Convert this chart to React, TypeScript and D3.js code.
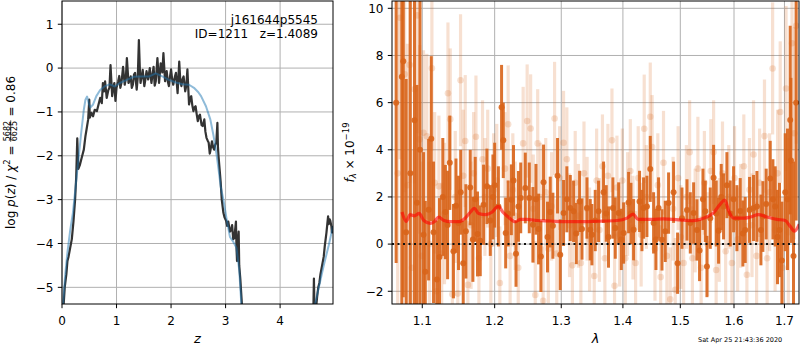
import { useEffect, useRef } from 'react';
import * as d3 from 'd3';

const W = 800;
const H = 350;

// ---- left panel: redshift PDF
const zTicks = [0, 1, 2, 3, 4];
const logpTicks = [-5, -4, -3, -2, -1, 0, 1];

const pzNoisy: [number, number][] = [
  [0.02, -5.6], [0.05, -5.0], [0.08, -4.7], [0.10, -4.4], [0.12, -4.3], [0.15, -4.1], [0.18, -3.9],
  [0.21, -3.5], [0.24, -3.0], [0.26, -2.5], [0.28, -1.6], [0.30, -2.3], [0.33, -2.2], [0.36, -2.05],
  [0.40, -1.86], [0.43, -1.55], [0.45, -1.4], [0.48, -1.17], [0.50, -0.72], [0.51, -1.13], [0.54, -1.02],
  [0.57, -1.1], [0.60, -0.95], [0.64, -0.98], [0.67, -0.83], [0.70, -0.68], [0.73, -0.8], [0.75, -0.34],
  [0.77, -0.53], [0.79, -0.3], [0.82, -0.68], [0.85, -0.5], [0.87, -0.45], [0.89, 0.07], [0.92, -0.64],
  [0.94, -0.45], [0.96, -0.34], [0.98, -0.75], [1.00, -0.45], [1.03, -0.3], [1.05, -0.18], [1.07, -0.45],
  [1.09, -0.34], [1.12, 0.03], [1.15, -0.38], [1.17, -0.25], [1.19, 0.23], [1.22, -0.34], [1.24, -0.28],
  [1.26, -0.19], [1.28, -0.45], [1.30, -0.38], [1.32, -0.15], [1.34, -0.11], [1.37, -0.49], [1.39, -0.2],
  [1.41, 0.64], [1.43, -0.1], [1.44, -0.34], [1.46, -0.2], [1.48, -0.04], [1.51, -0.41], [1.53, -0.25],
  [1.55, -0.07], [1.58, -0.26], [1.61, 0.0], [1.64, -0.34], [1.66, -0.15], [1.68, 0.03], [1.70, -0.4],
  [1.72, -0.3], [1.75, 0.23], [1.78, -0.34], [1.81, 0.11], [1.84, -0.1], [1.86, 0.34], [1.89, -0.3],
  [1.92, -0.07], [1.94, -0.3], [1.96, -0.41], [1.98, -0.2], [2.00, -0.03], [2.02, -0.25], [2.04, -0.38],
  [2.07, -0.2], [2.09, -0.11], [2.12, -0.57], [2.15, 0.15], [2.17, -0.3], [2.19, -0.41], [2.21, -0.25],
  [2.23, -0.19], [2.26, -0.53], [2.28, -0.4], [2.30, -0.03], [2.33, -0.83], [2.35, -0.7], [2.37, -0.64],
  [2.39, -0.85], [2.41, -0.98], [2.43, -0.9], [2.45, -0.87], [2.47, -1.05], [2.49, -1.21], [2.51, -1.1],
  [2.53, -1.06], [2.56, -1.3], [2.58, -1.32], [2.61, -1.17], [2.63, -1.45], [2.65, -1.59], [2.67, -1.65],
  [2.69, -1.7], [2.71, -1.95], [2.72, -1.89], [2.75, -1.67], [2.77, -1.8], [2.79, -1.86], [2.81, -1.75],
  [2.83, -1.7], [2.85, -1.25], [2.86, -1.8], [2.87, -2.0], [2.89, -2.3], [2.91, -2.6], [2.93, -3.0],
  [2.96, -3.3], [2.98, -3.4], [3.01, -3.48], [3.03, -3.6], [3.05, -3.5], [3.08, -3.73], [3.10, -3.7],
  [3.12, -3.58], [3.14, -3.9], [3.16, -3.88], [3.19, -3.5], [3.20, -4.1], [3.21, -4.4], [3.23, -3.9],
  [3.24, -3.73], [3.25, -4.5], [3.27, -4.8], [3.28, -5.0], [3.31, -5.6], [3.35, -8], [4.58, -8],
  [4.61, -5.5], [4.62, -4.8], [4.63, -5.5], [4.65, -5.6], [4.68, -5.2], [4.70, -5.0], [4.72, -4.9],
  [4.74, -4.7], [4.77, -4.5], [4.80, -4.3], [4.82, -4.05], [4.85, -3.75], [4.87, -3.5], [4.88, -3.38],
  [4.89, -3.56], [4.91, -3.45], [4.92, -3.48], [4.94, -3.6], [4.95, -3.75], [4.97, -3.6],
];

const pzSmooth: [number, number][] = [
  [0.00, -5.7], [0.03, -5.2], [0.06, -4.7], [0.10, -4.2], [0.15, -3.7], [0.20, -3.3], [0.25, -2.7],
  [0.30, -2.1], [0.35, -1.5], [0.40, -0.95], [0.43, -0.72], [0.46, -0.65], [0.49, -0.8], [0.52, -0.9],
  [0.57, -0.83], [0.63, -0.64], [0.70, -0.5], [0.79, -0.41], [0.88, -0.37], [0.97, -0.42], [1.06, -0.34],
  [1.19, -0.27], [1.31, -0.2], [1.44, -0.19], [1.60, -0.19], [1.72, -0.12], [1.84, -0.19], [1.96, -0.27],
  [2.09, -0.33], [2.21, -0.37], [2.33, -0.38], [2.42, -0.45], [2.50, -0.55], [2.55, -0.64], [2.64, -0.87],
  [2.72, -1.17], [2.78, -1.55], [2.83, -1.93], [2.87, -2.3], [2.91, -2.7], [2.96, -3.0], [3.02, -3.45],
  [3.08, -3.85], [3.14, -3.96], [3.20, -4.1], [3.25, -4.6], [3.29, -5.4], [3.33, -6.5], [3.40, -8],
  [4.55, -8], [4.63, -5.45], [4.71, -5.0], [4.80, -4.5], [4.89, -4.05], [4.97, -3.6],
];

// ---- right panel: spectrum (wavelength [um], flux, error)
const waveTicks = [1.1, 1.2, 1.3, 1.4, 1.5, 1.6, 1.7];
const fluxTicks = [-2, 0, 2, 4, 6, 8, 10];

const specDark: [number, number, number][] = [
  [1.066, 6.0, 6.8], [1.0733, 7.1, 10], [1.0752, 7.75, 10], [1.0789, 0.5, 6.5], [1.0843, 3.0, 8],
  [1.0898, 5.25, 8], [1.093, 1.75, 5], [1.097, 4.0, 9], [1.1017, 0.4, 3.5], [1.104, -1.17, 3],
  [1.1084, 1.46, 3], [1.112, 4.47, 3.5], [1.115, 0.5, 3], [1.1195, -1.5, 2.5], [1.123, -0.55, 2.5],
  [1.1275, 2.0, 2.5], [1.131, 1.36, 2], [1.134, 0.81, 2.3], [1.137, 3.45, 2], [1.142, -0.3, 2],
  [1.1455, 1.63, 2], [1.149, 0.9, 2], [1.152, 2.2, 1.8], [1.1555, -0.81, 1.8], [1.1592, 0.54, 2],
  [1.1653, 2.4, 1.6], [1.169, 0.2, 1.8], [1.1723, 1.9, 1.8], [1.1755, 0.43, 1.8], [1.1794, 0.14, 1.5],
  [1.1841, 1.67, 1.7], [1.1889, 2.45, 1.6], [1.1937, 1.0, 1.5], [1.1975, 2.0, 1.8], [1.200, 2.5, 1.8],
  [1.2054, 1.6, 1.7], [1.2100, 5.8, 1.8], [1.2125, 4.4, 1.6], [1.216, 0.47, 1.5], [1.2196, 1.3, 1.4],
  [1.2243, 1.88, 1.5], [1.2275, 2.7, 1.5], [1.2312, -0.41, 1.4], [1.2348, 1.6, 1.5], [1.2382, 1.96, 1.5],
  [1.245, 2.38, 1.5], [1.251, 1.96, 1.5], [1.2565, 0.82, 1.6], [1.2611, 1.9, 1.5], [1.265, 0.64, 1.5],
  [1.2686, -0.53, 1.5], [1.2726, 2.62, 1.6], [1.2787, 0.3, 1.5], [1.2829, 1.36, 1.5], [1.287, 0.78, 1.4],
  [1.2942, 2.9, 1.6], [1.2984, -0.45, 1.5], [1.3036, 1.32, 1.4], [1.3088, 1.9, 1.4], [1.3142, 1.53, 1.4],
  [1.3194, 1.39, 1.3], [1.3237, 0.45, 1.3], [1.329, 1.81, 1.3], [1.3328, 0.64, 1.3], [1.3408, 1.53, 1.3],
  [1.3461, 0.61, 1.3], [1.3488, 0.4, 1.3], [1.3542, 1.0, 1.3], [1.3596, 1.39, 1.3], [1.3678, 2.2, 1.3],
  [1.3722, 1.3, 1.2], [1.376, 0.3, 1.3], [1.3833, 1.53, 1.3], [1.3872, 0.68, 1.3], [1.3928, 1.32, 1.3],
  [1.3973, 0.2, 1.3], [1.4012, 0.47, 1.3], [1.4096, 1.76, 1.3], [1.4136, 1.3, 1.3], [1.4181, 0.61, 1.3],
  [1.4283, 1.81, 1.3], [1.4324, 1.0, 1.3], [1.4352, 1.53, 1.3], [1.441, 1.6, 1.3], [1.4468, 3.19, 1.4],
  [1.4526, 0.9, 1.3], [1.4567, 0.2, 1.3], [1.4613, 1.53, 1.3], [1.4673, 0.18, 1.3], [1.4731, 0.54, 1.3],
  [1.479, 1.74, 1.3], [1.4879, 2.2, 1.3], [1.4951, -0.81, 1.3], [1.503, 1.1, 1.3], [1.5121, 1.45, 1.3],
  [1.5181, 0.9, 1.3], [1.5242, 1.32, 1.3], [1.5303, 0.6, 1.3], [1.5351, -0.27, 1.3], [1.5414, 1.9, 1.3],
  [1.5457, 1.39, 1.3], [1.5488, -0.95, 1.3], [1.555, 1.1, 1.3], [1.5612, 2.81, 1.4], [1.5662, 1.3, 1.4],
  [1.5706, 0.57, 1.4], [1.5756, 2.0, 1.4], [1.58, 1.6, 1.4], [1.5864, 2.5, 1.4], [1.5928, 1.3, 1.4],
  [1.5992, 1.9, 1.4], [1.6056, 1.1, 1.4], [1.612, 1.4, 1.4], [1.6172, 0.45, 1.4], [1.6217, 0.6, 1.4],
  [1.6302, 1.45, 1.4], [1.638, 1.53, 1.4], [1.6447, 1.6, 1.5], [1.6526, 0.6, 1.5], [1.6565, 1.17, 1.5],
  [1.6631, 1.7, 1.5], [1.6712, 2.78, 1.6], [1.6766, 1.9, 1.7], [1.6812, 1.6, 1.7], [1.6859, 0.3, 2],
  [1.6899, 0.6, 2], [1.6948, -0.7, 2.5], [1.7016, 2.2, 2.5], [1.7063, 1.9, 3], [1.7118, 5.26, 4],
  [1.7133, 3.55, 3.5], [1.7186, -0.5, 4], [1.7241, 6.0, 5],
];

const specLight: [number, number, number][] = [
  [1.068, 3.0, 8], [1.071, 9.6, 6], [1.077, 7.2, 5], [1.0805, 2.5, 6], [1.0835, 7.6, 5], [1.0865, -1.0, 5],
  [1.0898, 6.57, 4], [1.0935, 9.7, 5], [1.0965, 4.44, 4], [1.0995, -0.5, 4], [1.1017, 4.72, 3.5],
  [1.106, 4.57, 3.5], [1.1095, 0.0, 3.5], [1.1128, 7.46, 3.5], [1.1165, 2.6, 3], [1.119, -2.0, 3],
  [1.1222, 2.45, 3], [1.126, -0.4, 3], [1.1298, 1.3, 3], [1.1345, 6.4, 3], [1.1376, 5.3, 3],
  [1.1405, -2.13, 3], [1.1445, 2.0, 2.8], [1.148, -2.1, 3], [1.1518, 6.95, 2.8], [1.1555, 2.9, 2.8],
  [1.1583, 4.37, 2.8], [1.162, -1.73, 2.7], [1.1665, 0.8, 2.7], [1.17, 3.0, 2.6], [1.1733, 4.55, 2.6],
  [1.1775, -0.6, 2.6], [1.1826, 3.6, 2.5], [1.186, 2.0, 2.5], [1.19, 3.2, 2.5], [1.1945, 0.0, 2.5],
  [1.1985, 2.3, 2.4], [1.203, 2.7, 2.4], [1.2075, -1.65, 2.4], [1.215, 3.2, 2.4], [1.2196, 5.08, 2.5],
  [1.2225, -0.5, 2.4], [1.2265, 2.3, 2.4], [1.23, 1.2, 2.3], [1.2345, -1.0, 2.3], [1.2418, 4.27, 2.4],
  [1.2478, 5.22, 2.4], [1.253, 4.9, 2.3], [1.257, 1.5, 2.3], [1.26, -2.16, 2.3], [1.2637, 4.27, 2.3],
  [1.268, 2.0, 2.3], [1.272, -2.4, 2.3], [1.276, 2.2, 2.3], [1.28, -0.2, 2.3], [1.285, 1.6, 2.3],
  [1.2896, 5.33, 2.4], [1.293, -0.4, 2.3], [1.2975, 2.8, 2.2], [1.3036, 4.3, 2.2], [1.3088, 3.6, 2.2],
  [1.313, 0.8, 2.2], [1.3175, -0.9, 2.2], [1.322, 2.6, 2.2], [1.327, 1.2, 2.2], [1.331, -0.8, 2.2],
  [1.336, 3.0, 2.2], [1.341, 1.5, 2.2], [1.345, 0.2, 2.2], [1.3526, -1.35, 2.2], [1.3565, 2.7, 2.2],
  [1.361, 0.6, 2.2], [1.366, 3.3, 2.2], [1.37, -0.6, 2.2], [1.375, 2.9, 2.2], [1.3817, 4.4, 2.2],
  [1.386, -1.77, 2.2], [1.39, 2.4, 2.2], [1.3945, 0.4, 2.2], [1.399, 2.7, 2.2], [1.404, -0.6, 2.2],
  [1.408, 1.7, 2.2], [1.4125, 3.1, 2.2], [1.417, 0.7, 2.2], [1.4215, -0.8, 2.2], [1.426, 2.8, 2.2],
  [1.431, 0.4, 2.2], [1.4363, 4.89, 2.3], [1.44, 2.0, 2.2], [1.4468, 5.4, 2.3], [1.45, 4.12, 2.2],
  [1.455, -0.2, 2.2], [1.46, 2.5, 2.2], [1.465, -1.4, 2.2], [1.47, 3.45, 2.2], [1.476, -0.5, 2.2],
  [1.482, -2.34, 2.2], [1.487, 1.5, 2.2], [1.4909, -1.94, 2.2], [1.496, 2.8, 2.2], [1.501, 0.3, 2.2],
  [1.506, -0.8, 2.2], [1.511, 2.0, 2.2], [1.5169, 3.9, 2.2], [1.522, -0.6, 2.2], [1.527, 1.0, 2.2],
  [1.532, 3.2, 2.2], [1.538, -1.0, 2.2], [1.544, 2.6, 2.2], [1.55, 0.0, 2.2], [1.556, 3.1, 2.2],
  [1.5612, 3.9, 2.2], [1.566, -1.1, 2.2], [1.572, 0.6, 2.2], [1.578, 3.0, 2.2], [1.584, -0.3, 2.2],
  [1.59, 2.0, 2.2], [1.596, -0.8, 2.2], [1.601, 2.8, 2.2], [1.607, 0.2, 2.2], [1.613, 1.2, 2.2],
  [1.619, 3.3, 2.2], [1.625, -1.3, 2.2], [1.63, 2.3, 2.2], [1.635, 0.8, 2.2], [1.638, 3.8, 2.3],
  [1.644, -0.5, 2.3], [1.65, 2.6, 2.3], [1.6597, 4.58, 2.4], [1.665, -0.6, 2.4], [1.67, 2.2, 2.5],
  [1.676, 7.45, 2.8], [1.681, 0.6, 2.6], [1.686, 3.0, 2.7], [1.6914, 5.6, 3], [1.696, -1.0, 3],
  [1.7033, 6.6, 3.5], [1.708, 0.5, 4], [1.7155, 8.52, 4.5], [1.72, 4.7, 4.5], [1.7241, 9.26, 5],
];

const modelSpec: [number, number][] = [
  [1.0735, 1.36], [1.079, 0.96], [1.084, 1.25], [1.0895, 1.2], [1.096, 1.3], [1.102, 1.0], [1.1106, 0.88],
  [1.116, 0.95], [1.122, 1.15], [1.129, 1.0], [1.1376, 0.95], [1.1489, 0.95], [1.158, 1.1], [1.1653, 1.35],
  [1.1709, 1.52], [1.177, 1.3], [1.187, 1.25], [1.196, 1.35], [1.2052, 1.6], [1.212, 1.35], [1.2196, 1.15],
  [1.2301, 0.95], [1.2382, 1.05], [1.2476, 1.05], [1.263, 1.0], [1.283, 0.98], [1.3036, 0.95], [1.33, 0.95],
  [1.357, 0.97], [1.39, 1.0], [1.407, 1.1], [1.417, 1.27], [1.426, 1.05], [1.45, 1.05], [1.47, 1.07],
  [1.497, 1.03], [1.524, 1.0], [1.54, 1.08], [1.561, 1.32], [1.5738, 1.7], [1.5826, 1.87], [1.59, 1.4],
  [1.5993, 1.1], [1.6195, 1.1], [1.6315, 1.15], [1.6478, 1.25], [1.6644, 1.15], [1.6846, 1.05],
  [1.7016, 1.0], [1.7118, 0.75], [1.7206, 0.55], [1.7305, 0.85],
];

const FONT = 'DejaVu Sans, sans-serif';
const GRID = '#b0b0b0';
const ORANGE = '#d8641a';

type Box = { x0: number; x1: number; y0: number; y1: number };

function drawGrid(g, box: Box, x, y, xTicks: number[], yTicks: number[]) {
  g.selectAll(null).data(xTicks).join('line')
    .attr('x1', d => x(d)).attr('x2', d => x(d))
    .attr('y1', box.y0).attr('y2', box.y1)
    .attr('stroke', GRID).attr('stroke-width', 1);
  g.selectAll(null).data(yTicks).join('line')
    .attr('x1', box.x0).attr('x2', box.x1)
    .attr('y1', d => y(d)).attr('y2', d => y(d))
    .attr('stroke', GRID).attr('stroke-width', 1);
}

function drawFrame(g, box: Box, x, y, xTicks: number[], yTicks: number[], xFmt, yFmt) {
  const tick = 4.2;
  g.append('rect')
    .attr('x', box.x0).attr('y', box.y0)
    .attr('width', box.x1 - box.x0).attr('height', box.y1 - box.y0)
    .attr('fill', 'none').attr('stroke', 'black').attr('stroke-width', 1);
  g.selectAll(null).data(xTicks).join('line')
    .attr('x1', d => x(d)).attr('x2', d => x(d))
    .attr('y1', box.y1).attr('y2', box.y1 + tick)
    .attr('stroke', 'black').attr('stroke-width', 1);
  g.selectAll(null).data(xTicks).join('text')
    .attr('x', d => x(d)).attr('y', 325)
    .attr('text-anchor', 'middle')
    .style('font-family', FONT).style('font-size', '12px')
    .text(d => xFmt(d));
  g.selectAll(null).data(yTicks).join('line')
    .attr('x1', box.x0 - tick).attr('x2', box.x0)
    .attr('y1', d => y(d)).attr('y2', d => y(d))
    .attr('stroke', 'black').attr('stroke-width', 1);
  g.selectAll(null).data(yTicks).join('text')
    .attr('x', box.x0 - 8.5).attr('y', d => y(d)).attr('dy', '0.36em')
    .attr('text-anchor', 'end')
    .style('font-family', FONT).style('font-size', '12px')
    .text(d => yFmt(d));
}

const App = () => {
  const svgRef = useRef<SVGSVGElement>(null);

  useEffect(() => {
    document.body.style.margin = '0';
    const svg = d3.select(svgRef.current);
    svg.selectAll('*').remove();
    svg.append('rect').attr('width', W).attr('height', H).attr('fill', 'white');

    // ---------- left: p(z)
    const pz: Box = { x0: 62, x1: 333, y0: 1, y1: 304 };
    const x = d3.scaleLinear().domain([0, 4.97]).range([pz.x0, pz.x1]);
    const y = d3.scaleLinear().domain([-5.38, 1.53]).range([pz.y1, pz.y0]);

    const defs = svg.append('defs');
    defs.append('clipPath').attr('id', 'clipL').append('rect')
      .attr('x', pz.x0).attr('y', pz.y0).attr('width', pz.x1 - pz.x0).attr('height', pz.y1 - pz.y0);

    const gL = svg.append('g');
    drawGrid(gL, pz, x, y, zTicks, logpTicks);

    const line = d3.line<[number, number]>().x(d => x(d[0])).y(d => y(d[1]));
    const curves = gL.append('g').attr('clip-path', 'url(#clipL)');
    curves.append('path').attr('d', line(pzNoisy))
      .attr('fill', 'none').attr('stroke', '#333333').attr('stroke-width', 2.2)
      .attr('stroke-linejoin', 'round');
    curves.append('path').attr('d', line(pzSmooth))
      .attr('fill', 'none').attr('stroke', '#1f77b4').attr('stroke-opacity', 0.5)
      .attr('stroke-width', 2).attr('stroke-linejoin', 'round');

    drawFrame(gL, pz, x, y, zTicks, logpTicks, d3.format('d'), d3.format('d'));

    gL.append('text').attr('x', 318).attr('y', 23.5).attr('text-anchor', 'end')
      .style('font-family', FONT).style('font-size', '12px').text('j161644p5545');
    gL.append('text').attr('x', 318).attr('y', 37.5).attr('text-anchor', 'end')
      .style('font-family', FONT).style('font-size', '12px').style('white-space', 'pre')
      .text('ID=1211   z=1.4089');

    gL.append('text').attr('x', (pz.x0 + pz.x1) / 2).attr('y', 343).attr('text-anchor', 'middle')
      .style('font-family', FONT).style('font-size', '13px').style('font-style', 'italic').text('z');

    // y label with stacked fraction
    const yl = svg.append('g').attr('transform', `translate(14.5, ${(pz.y0 + pz.y1) / 2}) rotate(-90)`);
    const inner = yl.append('g');
    const t1 = inner.append('text').attr('x', 0).attr('y', 0)
      .style('font-family', FONT).style('font-size', '12px').style('white-space', 'pre');
    t1.append('tspan').text('log ');
    t1.append('tspan').style('font-style', 'italic').text('p');
    t1.append('tspan').text('(');
    t1.append('tspan').style('font-style', 'italic').text('z');
    t1.append('tspan').text(') / ');
    t1.append('tspan').style('font-style', 'italic').text('χ');
    t1.append('tspan').style('font-size', '8.5px').attr('dy', -4.5).text('2');
    t1.append('tspan').attr('dy', 4.5).text(' = ');
    const l1 = (t1.node() as SVGTextElement).getComputedTextLength();
    const num = inner.append('text').style('font-family', FONT).style('font-size', '8px').text('5682');
    const den = inner.append('text').style('font-family', FONT).style('font-size', '8px').text('6625');
    const fw = Math.max((num.node() as SVGTextElement).getComputedTextLength(),
      (den.node() as SVGTextElement).getComputedTextLength()) + 1;
    num.attr('x', l1 + fw / 2).attr('y', -5).attr('text-anchor', 'middle');
    den.attr('x', l1 + fw / 2).attr('y', 2.8).attr('text-anchor', 'middle');
    inner.append('line').attr('x1', l1).attr('x2', l1 + fw).attr('y1', -3.8).attr('y2', -3.8)
      .attr('stroke', 'black').attr('stroke-width', 0.7);
    const t2 = inner.append('text').attr('x', l1 + fw).attr('y', 0)
      .style('font-family', FONT).style('font-size', '12px').style('white-space', 'pre').text(' = 0.86');
    const total = l1 + fw + (t2.node() as SVGTextElement).getComputedTextLength();
    inner.attr('transform', `translate(${-total / 2}, 0)`);

    // ---------- right: spectrum
    const sp: Box = { x0: 392, x1: 799, y0: 1, y1: 304 };
    const wx = d3.scaleLog().domain([1.0607, 1.730]).range([sp.x0, sp.x1]);
    const fy = d3.scaleLinear().domain([-2.54, 10.31]).range([sp.y1, sp.y0]);

    defs.append('clipPath').attr('id', 'clipR').append('rect')
      .attr('x', sp.x0).attr('y', sp.y0).attr('width', sp.x1 - sp.x0).attr('height', sp.y1 - sp.y0);

    const gR = svg.append('g');
    drawGrid(gR, sp, wx, fy, waveTicks, fluxTicks);

    const data = gR.append('g').attr('clip-path', 'url(#clipR)');
    const drawPoints = (pts: [number, number, number][], opacity: number, w: number, r: number) => {
      const g = data.append('g');
      g.selectAll(null).data(pts).join('line')
        .attr('x1', d => wx(d[0])).attr('x2', d => wx(d[0]))
        .attr('y1', d => fy(d[1] - d[2])).attr('y2', d => fy(d[1] + d[2]))
        .attr('stroke', ORANGE).attr('stroke-opacity', opacity).attr('stroke-width', w);
      g.selectAll(null).data(pts).join('circle')
        .attr('cx', d => wx(d[0])).attr('cy', d => fy(d[1])).attr('r', r)
        .attr('fill', ORANGE).attr('fill-opacity', opacity);
    };
    drawPoints(specLight, 0.2, 3.2, 3.3);
    drawPoints(specDark, 0.9, 3, 3);

    const mline = d3.line<[number, number]>().x(d => wx(d[0])).y(d => fy(d[1])).curve(d3.curveMonotoneX);
    data.append('path').attr('d', mline(modelSpec))
      .attr('fill', 'none').attr('stroke', 'red').attr('stroke-opacity', 0.6)
      .attr('stroke-width', 3.2).attr('stroke-linejoin', 'round');

    data.append('line').attr('x1', sp.x0).attr('x2', sp.x1).attr('y1', fy(0)).attr('y2', fy(0))
      .attr('stroke', '#111').attr('stroke-width', 2).attr('stroke-dasharray', '2,3.5');

    drawFrame(gR, sp, wx, fy, waveTicks, fluxTicks, d3.format('.1f'), d3.format('d'));

    gR.append('text').attr('x', (sp.x0 + sp.x1) / 2).attr('y', 343).attr('text-anchor', 'middle')
      .style('font-family', FONT).style('font-size', '13px').style('font-style', 'italic').text('λ');

    const yr = svg.append('g').attr('transform', `translate(353.5, ${(sp.y0 + sp.y1) / 2}) rotate(-90)`);
    const tr = yr.append('text').style('font-family', FONT).style('font-size', '12px').style('white-space', 'pre');
    tr.append('tspan').style('font-style', 'italic').text('f');
    tr.append('tspan').style('font-style', 'italic').style('font-size', '8.5px').attr('dy', 2.5).text('λ');
    tr.append('tspan').attr('dy', -2.5).text(' × 10');
    tr.append('tspan').style('font-size', '8.5px').attr('dy', -5).text('−19');
    const trLen = (tr.node() as SVGTextElement).getComputedTextLength();
    tr.attr('x', -trLen / 2);

    svg.append('text').attr('x', 698).attr('y', 342)
      .style('font-family', FONT).style('font-size', '6.5px').text('Sat Apr 25 21:43:36 2020');
  }, []);

  return <svg ref={svgRef} width={W} height={H} style={{ display: 'block' }} />;
};

export default App;
